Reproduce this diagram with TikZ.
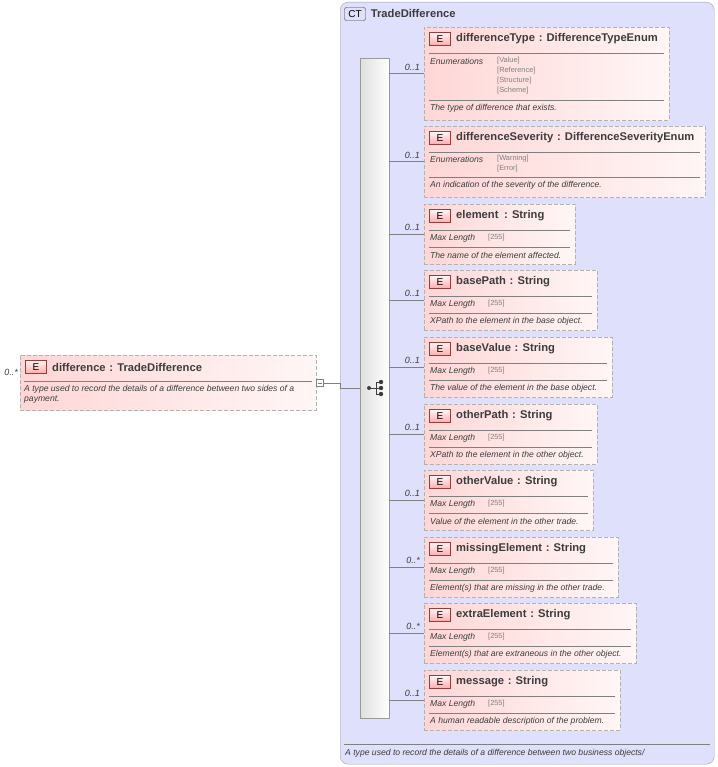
\documentclass[tikz,border=0pt]{standalone}
\usepackage{fontspec}
\setmainfont{Liberation Sans}
\usetikzlibrary{calc,positioning}
\definecolor{ctfill}{RGB}{222, 224, 252}
\definecolor{ctline}{RGB}{160, 160, 176}
\definecolor{elpink}{RGB}{255, 214, 214}
\definecolor{elpale}{RGB}{255, 246, 246}
\definecolor{badgered}{RGB}{150, 60, 60}
\definecolor{txtgray}{RGB}{60, 60, 60}

\begin{document}
\begin{tikzpicture}[
    x=1pt, y=-1pt,
    ctbox/.style={rectangle, rounded corners=8pt, draw=ctline, fill=ctfill, anchor=north west, inner sep=0pt},
    elbox/.style={rectangle, draw=gray!60, dash pattern=on 4pt off 2pt, left color=elpink, right color=elpale, anchor=north west, inner sep=0pt},
    badge/.style={rectangle, draw=badgered, solid, top color=elpale, bottom color=elpink!80!red, minimum width=21pt, minimum height=13pt, inner sep=0pt, font=\fontsize{10}{10}\selectfont},
    title/.style={anchor=west, inner sep=0pt, font=\bfseries\fontsize{11.2}{12}\selectfont, text=txtgray},
    note/.style={anchor=west, inner sep=0pt, font=\itshape\fontsize{8.6}{9}\selectfont, text=txtgray},
    facet/.style={anchor=west, inner sep=0pt, font=\fontsize{7.4}{8}\selectfont, text=gray},
    mult/.style={anchor=south east, inner sep=0pt, font=\itshape\fontsize{9}{9}\selectfont, text=txtgray},
    link/.style={draw=gray, thin}
]
    \useasboundingbox (0,0) rectangle (717,767);

    % complex type frame
    \node[ctbox, minimum width=374pt, minimum height=762pt] (ct) at (340,2) {};
    \node[rectangle, rounded corners=2pt, draw=txtgray, minimum width=21pt, minimum height=13pt, inner sep=0pt, font=\fontsize{10}{10}\selectfont] (ctbadge) at (355,14) {CT};
    \node[title, right=5pt of ctbadge.east] (cttitle) {TradeDifference};
    \draw[gray] (344,744) -- (710,744);
    \node[note] (ctdoc) at (345,753) {A type used to record the details of a difference between two business objects/};

    % sequence bar
    \node[rectangle, draw=gray!80, left color=gray!25, right color=white, anchor=north west, minimum width=29pt, minimum height=660pt, inner sep=0pt] (seq) at (360,58) {};
    \fill[txtgray] (369,388) circle (2pt);
    \draw[txtgray] (369,388) -- (376,388) (376,382) -- (376,394) (376,382) -- (381,382) (376,388) -- (381,388) (376,394) -- (381,394);
    \foreach \yy in {382,388,394} \fill[txtgray] (381,\yy) circle (2.2pt);

    % root element
    \node[elbox, minimum width=296pt, minimum height=55pt] (root) at (20,355) {};
    \node[badge] (rootE) at (36,367) {E};
    \node[title] (rootT) at (52,367) {difference\,\,: TradeDifference};
    \draw[gray] (24,381) -- (312,381);
    \node[note] (rootD1) at (24,389) {A type used to record the details of a difference between two sides of a};
    \node[note] (rootD2) at (24,400) {payment.};
    \node[mult] (rootM) at (18,376) {0..*};
    \node[rectangle, draw=gray, fill=white, minimum size=7pt, inner sep=0pt] (fold) at (320,383) {};
    \draw[gray] (318,383) -- (322,383);
    \draw[link] (fold.east) -- (340,383) -- (340,388) -- (seq.west |- 0,388);

    % enumerated children
    \node[elbox, minimum width=245pt, minimum height=93pt] (dtype) at (424,27) {};
    \node[badge] (dtypeE) at (440,39) {E};
    \node[title] (dtypeT) at (456,39) {differenceType\,\,: DifferenceTypeEnum};
    \draw[gray] (429,53) -- (664,53);
    \node[note] (dtypeL) at (430,61) {Enumerations};
    \node[facet] (dtypeV1) at (497,61) {[Value]};
    \node[facet] (dtypeV2) at (497,71) {[Reference]};
    \node[facet] (dtypeV3) at (497,81) {[Structure]};
    \node[facet] (dtypeV4) at (497,91) {[Scheme]};
    \draw[gray] (429,100) -- (664,100);
    \node[note] (dtypeD) at (430,108) {The type of difference that exists.};
    \draw[link] (seq.east |- dtype.west) -- (dtype.west);
    \node[mult] at ([xshift=-4pt,yshift=3pt]dtype.west) {0..1};

    \node[elbox, minimum width=281pt, minimum height=71pt] (dsev) at (424,126) {};
    \node[badge] (dsevE) at (440,138) {E};
    \node[title] (dsevT) at (456,138) {differenceSeverity\,\,: DifferenceSeverityEnum};
    \draw[gray] (429,152) -- (700,152);
    \node[note] (dsevL) at (430,159) {Enumerations};
    \node[facet] (dsevV1) at (497,159) {[Warning]};
    \node[facet] (dsevV2) at (497,169) {[Error]};
    \draw[gray] (429,177) -- (700,177);
    \node[note] (dsevD) at (430,185) {An indication of the severity of the difference.};
    \draw[link] (seq.east |- dsev.west) -- (dsev.west);
    \node[mult] at ([xshift=-4pt,yshift=3pt]dsev.west) {0..1};

    % string children
    \foreach \key/\yt/\bw/\nm/\mlt/\doc in {
        elem/204/151/element\,\,\,: String/0..1/The name of the element affected.,
        bpath/270/173/basePath\,\,: String/0..1/XPath to the element in the base object.,
        bval/337/188/baseValue\,\,: String/0..1/The value of the element in the base object.,
        opath/404/173/otherPath\,\,: String/0..1/XPath to the element in the other object.,
        oval/470/169/otherValue\,\,: String/0..1/Value of the element in the other trade.,
        miss/537/194/missingElement\,\,: String/0..*/Element(s) that are missing in the other trade.,
        extra/603/212/extraElement\,\,: String/0..*/Element(s) that are extraneous in the other object.,
        msg/670/196/message\,\,: String/0..1/A human readable description of the problem.}
    {
        \node[elbox, minimum width=\bw pt, minimum height=60pt] (\key) at (424,\yt) {};
        \node[badge] (\key E) at (440,\yt+12) {E};
        \node[title] (\key T) at (456,\yt+12) {\nm};
        \draw[gray] (429,\yt+26) -- (419+\bw,\yt+26);
        \node[note] (\key L) at (430,\yt+34) {Max Length};
        \node[facet] (\key V) at (488,\yt+34) {[255]};
        \draw[gray] (429,\yt+43) -- (419+\bw,\yt+43);
        \node[note] (\key D) at (430,\yt+51) {\doc};
        \draw[link] (seq.east |- \key.west) -- (\key.west);
        \node[mult] at ([xshift=-4pt,yshift=3pt]\key.west) {\mlt};
    }
\end{tikzpicture}
\end{document}
